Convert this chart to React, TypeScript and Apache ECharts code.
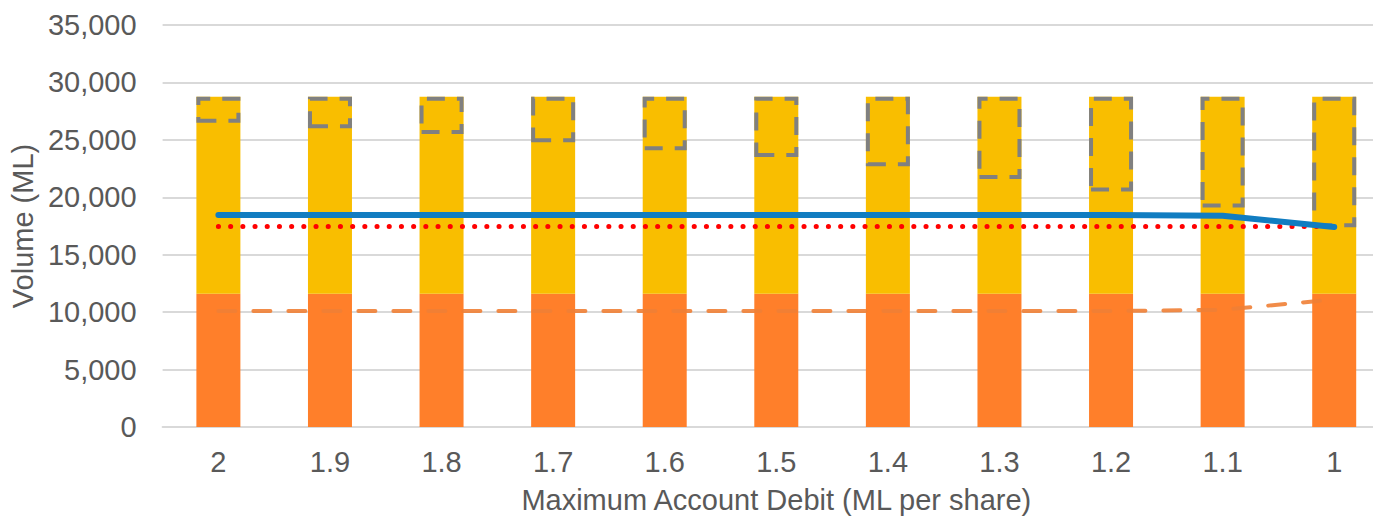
import React, { useEffect, useRef } from "react";
import * as echarts from "echarts";

const categories = ["2", "1.9", "1.8", "1.7", "1.6", "1.5", "1.4", "1.3", "1.2", "1.1", "1"];
const lowerVolume = [11600, 11600, 11600, 11600, 11600, 11600, 11600, 11600, 11600, 11600, 11600];
const upperVolume = [17150, 17150, 17150, 17150, 17150, 17150, 17150, 17150, 17150, 17150, 17150];
const boxBottom = [26500, 26000, 25500, 24800, 24100, 23500, 22700, 21600, 20500, 19100, 17400];
const boxTop = [28750, 28750, 28750, 28750, 28750, 28750, 28750, 28750, 28750, 28750, 28750];
const blueLine = [18450, 18450, 18450, 18450, 18450, 18450, 18450, 18450, 18450, 18400, 17420];
const redDotted = [17450, 17450, 17450, 17450, 17450, 17450, 17450, 17450, 17450, 17450, 17450];
const orangeDashed = [10100, 10100, 10100, 10100, 10100, 10100, 10100, 10100, 10100, 10200, 11100];
const yTicks = [0, 5000, 10000, 15000, 20000, 25000, 30000, 35000];

const FONT = "'Liberation Sans', Arial, sans-serif";
const TXT = "#595959";

export default function App() {
  const ref = useRef<HTMLDivElement>(null);
  useEffect(() => {
    if (!ref.current) return;
    const chart = echarts.init(ref.current, null, { renderer: "svg" });
    const boxSize = boxTop.map((t, i) => t - boxBottom[i]);
    chart.setOption({
      animation: false,
      textStyle: { fontFamily: FONT },
      grid: { left: 162, top: 25, height: 404, width: 1228 },
      xAxis: {
        type: "category",
        data: categories,
        axisTick: { show: false },
        axisLine: { show: true, lineStyle: { color: "#d9d9d9", width: 2 } },
        axisLabel: { fontSize: 29, color: TXT, margin: 20, fontFamily: FONT },
        name: "Maximum Account Debit (ML per share)",
        nameLocation: "middle",
        nameGap: 58,
        nameTextStyle: { fontSize: 29, color: TXT, fontFamily: FONT },
      },
      yAxis: {
        type: "value",
        min: yTicks[0],
        max: yTicks[yTicks.length - 1],
        interval: 5000,
        axisLine: { show: false },
        axisTick: { show: false },
        splitLine: { lineStyle: { color: "#d9d9d9", width: 2 } },
        axisLabel: {
          fontSize: 29,
          color: TXT,
          margin: 26,
          fontFamily: FONT,
          formatter: (v: number) => v.toLocaleString("en-US"),
        },
        name: "Volume (ML)",
        nameLocation: "middle",
        nameGap: 124,
        nameTextStyle: { fontSize: 29, color: TXT, fontFamily: FONT },
      },
      series: [
        {
          type: "bar",
          stack: "a",
          data: lowerVolume,
          barWidth: 44,
          barGap: "-100%",
          itemStyle: { color: "#FF7F2A" },
        },
        {
          type: "bar",
          stack: "a",
          data: upperVolume,
          barWidth: 44,
          barGap: "-100%",
          itemStyle: { color: "#F9BE00" },
        },
        {
          type: "bar",
          stack: "b",
          data: boxBottom,
          barWidth: 44,
          barGap: "-100%",
          silent: true,
          itemStyle: { color: "rgba(0,0,0,0)" },
        },
        {
          type: "bar",
          stack: "b",
          data: boxSize,
          barWidth: 44,
          barGap: "-100%",
          itemStyle: {
            color: "rgba(0,0,0,0)",
            borderColor: "#808080",
            borderWidth: 4,
            borderType: [18, 12],
          },
          z: 3,
        },
        {
          type: "line",
          data: orangeDashed,
          symbol: "none",
          lineStyle: { color: "#F07F35", width: 4, type: [17, 18], cap: "round", opacity: 0.9 },
          z: 4,
        },
        {
          type: "line",
          data: redDotted,
          symbol: "none",
          lineStyle: { color: "#FF0000", width: 5, type: [0.1, 12.1], cap: "round" },
          z: 5,
        },
        {
          type: "line",
          data: blueLine,
          symbol: "none",
          lineStyle: { color: "#117DC1", width: 6, cap: "round" },
          z: 6,
        },
      ],
    });
    return () => chart.dispose();
  }, []);
  return (
    <div
      ref={ref}
      style={{ position: "fixed", left: 0, top: 0, width: 1400, height: 519, background: "#fff" }}
    />
  );
}
